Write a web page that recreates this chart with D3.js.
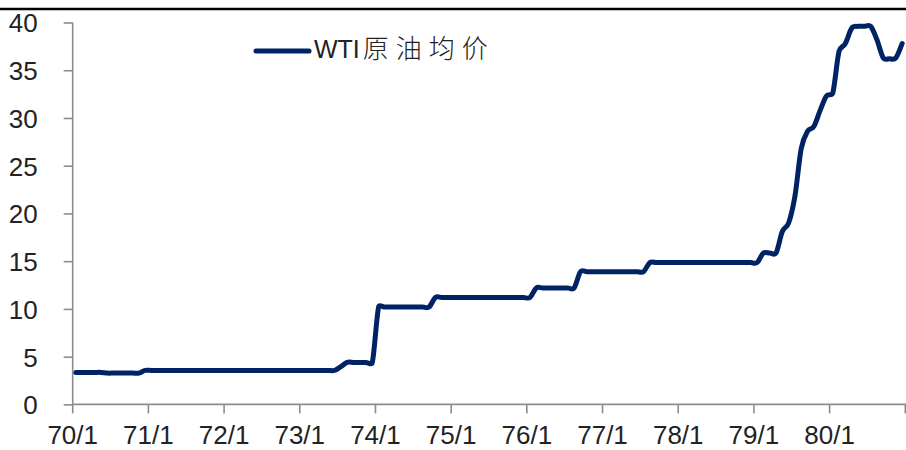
<!DOCTYPE html>
<html>
<head>
<meta charset="utf-8">
<script src="https://cdn.jsdelivr.net/npm/d3@7"></script>
<style>
  html, body { margin: 0; padding: 0; background: #fff; }
  svg { display: block; }
</style>
</head>
<body>
<svg id="chart" width="906" height="450"></svg>
<script>
// Years shown on the category axis (monthly categories, 1970-1980)
const years = [70, 71, 72, 73, 74, 75, 76, 77, 78, 79, 80];
const yTicks = [0, 5, 10, 15, 20, 25, 30, 35, 40];
const seriesName = "WTI原油均价";

// Monthly average WTI price, USD/bbl, Jan 1970 .. Dec 1980
const price = [
  // 1970
  3.35, 3.35, 3.35, 3.35, 3.35, 3.28, 3.28, 3.28, 3.28, 3.28, 3.28, 3.56,
  // 1971
  3.56, 3.56, 3.56, 3.56, 3.56, 3.56, 3.56, 3.56, 3.56, 3.56, 3.56, 3.56,
  // 1972
  3.56, 3.56, 3.56, 3.56, 3.56, 3.56, 3.56, 3.56, 3.56, 3.56, 3.56, 3.56,
  // 1973
  3.56, 3.56, 3.56, 3.56, 3.56, 3.56, 3.95, 4.4, 4.4, 4.4, 4.4, 4.4,
  // 1974
  10.2, 10.2, 10.2, 10.2, 10.2, 10.2, 10.2, 10.2, 10.2, 11.2, 11.2, 11.2,
  // 1975
  11.2, 11.2, 11.2, 11.2, 11.2, 11.2, 11.2, 11.2, 11.2, 11.2, 11.2, 11.2,
  // 1976
  11.2, 12.2, 12.2, 12.2, 12.2, 12.2, 12.2, 12.2, 13.9, 13.9, 13.9, 13.9,
  // 1977
  13.9, 13.9, 13.9, 13.9, 13.9, 13.9, 13.9, 14.85, 14.85, 14.85, 14.85, 14.85,
  // 1978
  14.85, 14.85, 14.85, 14.85, 14.85, 14.85, 14.85, 14.85, 14.85, 14.85, 14.85, 14.85,
  // 1979
  14.85, 15.85, 15.85, 15.85, 18.1, 19.0, 21.8, 26.8, 28.6, 29.1, 30.8, 32.3,
  // 1980
  32.6, 37.0, 37.8, 39.4, 39.6, 39.6, 39.6, 38.2, 36.3, 36.2, 36.3, 37.8
];

// Category labels "yy/m"
const months = [];
years.forEach(yy => { for (let m = 1; m <= 12; m++) months.push(yy + "/" + m); });
const data = months.map((m, i) => ({ month: m, value: price[i] }));

const svg = d3.select("#chart");
const axisColor = "#8c8c8c";
const lineColor = "#002366";
const fontLatin = "Arial, 'Liberation Sans', sans-serif";

const plotLeft = 72.7, plotRight = 905.3, plotTop = 22.5, plotBottom = 404.4;

const x = d3.scaleBand().domain(months).range([plotLeft, plotRight]).padding(0);
const y = d3.scaleLinear().domain([0, 40]).range([plotBottom, plotTop]);

// top rule
svg.append("line")
  .attr("x1", 0).attr("x2", 906).attr("y1", 9).attr("y2", 9)
  .attr("stroke", "#000").attr("stroke-width", 2.5);

// y axis
const yAxis = svg.append("g").attr("transform", `translate(${plotLeft},0)`)
  .call(d3.axisLeft(y).tickValues(yTicks).tickSize(9).tickPadding(26).tickFormat(d3.format("d")));
yAxis.select(".domain").attr("stroke", axisColor).attr("stroke-width", 1.6)
  .attr("d", `M0,${plotTop}V${plotBottom}`);
yAxis.selectAll(".tick line").attr("stroke", axisColor).attr("stroke-width", 1.6);
yAxis.selectAll(".tick text")
  .attr("fill", "#222").attr("font-family", fontLatin).attr("font-size", 26)
  .attr("dy", "0.36em");

// x axis: ticks on category boundaries every 12 months
const tickMonths = years.map(yy => yy + "/1");
const xAxis = svg.append("g").attr("transform", `translate(0,${plotBottom})`);
xAxis.append("line").attr("x1", plotLeft).attr("x2", plotRight + 2)
  .attr("stroke", axisColor).attr("stroke-width", 1.6);
const tickPos = tickMonths.map(m => x(m)).concat([plotRight]);
xAxis.selectAll("line.tk").data(tickPos).join("line").attr("class", "tk")
  .attr("x1", d => d).attr("x2", d => d).attr("y1", 0).attr("y2", 9)
  .attr("stroke", axisColor).attr("stroke-width", 1.6);
xAxis.selectAll("text").data(tickMonths).join("text")
  .attr("x", d => x(d)).attr("y", 40)
  .attr("text-anchor", "middle")
  .attr("fill", "#222").attr("font-family", fontLatin).attr("font-size", 26)
  .text(d => d);

// Smoothed line: cubic Bezier segments with Catmull-Rom tangents (1/6 of the
// neighbour chord), each handle limited to half of the segment it sits in so
// that sharp steps do not overshoot.
function smoothPath(pts, limit) {
  const p = d3.path();
  const n = pts.length;
  const dist = (a, b) => Math.hypot(b[0] - a[0], b[1] - a[1]);
  const tan = pts.map((pt, i) => {
    const a = pts[Math.max(i - 1, 0)], b = pts[Math.min(i + 1, n - 1)];
    return [(b[0] - a[0]) / 6, (b[1] - a[1]) / 6];
  });
  const clamp = (t, maxLen) => {
    const len = Math.hypot(t[0], t[1]);
    if (len <= maxLen || len === 0) return t;
    const s = maxLen / len;
    return [t[0] * s, t[1] * s];
  };
  p.moveTo(pts[0][0], pts[0][1]);
  for (let i = 0; i < n - 1; i++) {
    const seg = dist(pts[i], pts[i + 1]);
    const h1 = clamp(tan[i], seg * limit);
    const h2 = clamp(tan[i + 1], seg * limit);
    p.bezierCurveTo(pts[i][0] + h1[0], pts[i][1] + h1[1],
                    pts[i + 1][0] - h2[0], pts[i + 1][1] - h2[1],
                    pts[i + 1][0], pts[i + 1][1]);
  }
  return p.toString();
}

const pts = data.map(d => [x(d.month) + x.bandwidth() / 2, y(d.value)]);
svg.append("path")
  .attr("d", smoothPath(pts, 0.5))
  .attr("fill", "none").attr("stroke", lineColor).attr("stroke-width", 5)
  .attr("stroke-linejoin", "round").attr("stroke-linecap", "round");

// legend
const lg = svg.append("g");
lg.append("line").attr("x1", 256).attr("x2", 309).attr("y1", 51).attr("y2", 51)
  .attr("stroke", lineColor).attr("stroke-width", 5).attr("stroke-linecap", "round");
const lt = lg.append("text").attr("x", 314).attr("y", 58).attr("fill", "#222");
lt.append("tspan").attr("font-family", fontLatin).attr("font-size", 25)
  .text(seriesName.slice(0, 3));
lt.append("tspan").attr("font-family", "'Noto Sans CJK SC', sans-serif").attr("font-size", 26)
  .attr("font-weight", 300).attr("dx", 3).attr("letter-spacing", 7).text(seriesName.slice(3));
</script>
</body>
</html>
